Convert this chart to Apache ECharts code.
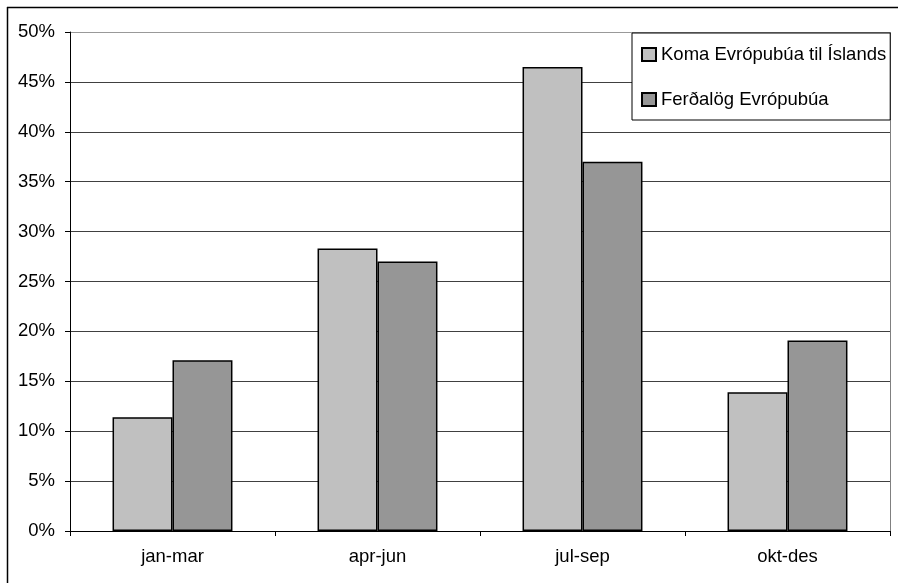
<!DOCTYPE html>
<html>
<head>
<meta charset="utf-8">
<script src="https://cdn.jsdelivr.net/npm/echarts@6/dist/echarts.min.js"></script>
<style>
  html, body { margin: 0; padding: 0; background: #fff; }
  #chart { width: 898px; height: 583px; }
</style>
</head>
<body>
<div id="chart"></div>
<script>
// Quarterly share of travel, in percent
const quarters = ['jan-mar', 'apr-jun', 'jul-sep', 'okt-des'];
const komaEvropubua = [11.4, 28.3, 46.5, 13.9];
const ferdalogEvropubua = [17.1, 27.0, 37.0, 19.1];
const seriesNames = ['Koma Evrópubúa til Íslands', 'Ferðalög Evrópubúa'];

const chart = echarts.init(document.getElementById('chart'), null, { renderer: 'canvas' });
const font = 'Liberation Sans, Arial, sans-serif';
const fs = 18.5;

// gridlines dark, the top one (plot frame) lighter
const gridColors = ['#404040', '#404040', '#404040', '#404040', '#404040', '#404040',
  '#404040', '#404040', '#404040', '#404040', '#999999'];

chart.setOption({
  backgroundColor: '#fff',
  animation: false,
  textStyle: { fontFamily: font },
  graphic: [
    { type: 'line', shape: { x1: 7, y1: 7.5, x2: 898, y2: 7.5 },
      style: { stroke: '#000', lineWidth: 1.5 }, z: 0 },
    { type: 'line', shape: { x1: 7.5, y1: 7, x2: 7.5, y2: 583 },
      style: { stroke: '#000', lineWidth: 1.5 }, z: 0 },
    { type: 'line', shape: { x1: 890.5, y1: 32, x2: 890.5, y2: 531 },
      style: { stroke: '#808080', lineWidth: 1 }, z: 1 }
  ],
  grid: { left: 70, right: 8, top: 32, bottom: 52, containLabel: false },
  legend: {
    orient: 'vertical',
    left: 632, top: 33,
    padding: [12, 4, 11, 9],
    itemGap: 26,
    itemWidth: 14, itemHeight: 13,
    backgroundColor: '#fff',
    borderColor: '#000', borderWidth: 1,
    borderRadius: 0,
    icon: 'rect',
    textStyle: { fontSize: fs, color: '#000', fontFamily: font },
    data: seriesNames,
    z: 10
  },
  xAxis: {
    type: 'category',
    data: quarters,
    axisLine: { lineStyle: { color: '#000', width: 1 } },
    axisTick: { show: true, length: 5, inside: false, lineStyle: { color: '#000' } },
    axisLabel: { fontSize: fs, color: '#000', margin: 16, fontFamily: font },
    splitLine: { show: false }
  },
  yAxis: {
    type: 'value',
    min: 0, max: 50, interval: 5,
    axisLine: { show: true, lineStyle: { color: '#000', width: 1 } },
    axisTick: { show: true, length: 5, lineStyle: { color: '#000' } },
    axisLabel: { fontSize: fs, color: '#000', margin: 15, fontFamily: font,
      formatter: v => v + '%' },
    splitLine: { show: true, lineStyle: { color: gridColors, width: 1 } }
  },
  series: [
    {
      name: seriesNames[0], type: 'bar', data: komaEvropubua,
      barGap: '0%', barCategoryGap: '41.5%',
      itemStyle: { color: '#C0C0C0', borderColor: '#000', borderWidth: 1.5 }
    },
    {
      name: seriesNames[1], type: 'bar', data: ferdalogEvropubua,
      barGap: '0%', barCategoryGap: '41.5%',
      itemStyle: { color: '#969696', borderColor: '#000', borderWidth: 1.5 }
    }
  ]
});
</script>
</body>
</html>
